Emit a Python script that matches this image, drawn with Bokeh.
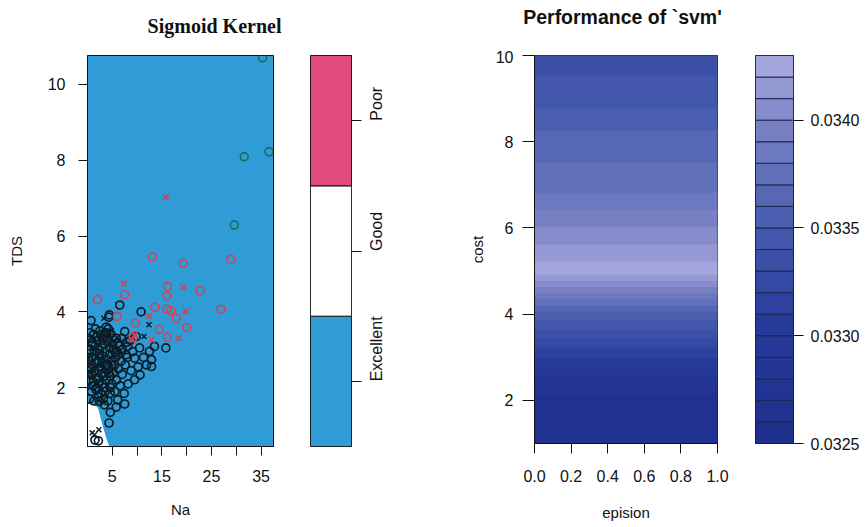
import math
import numpy as np
from bokeh.plotting import figure
from bokeh.plotting.contour import contour_data
from bokeh.layouts import row, column
from bokeh.models import (FixedTicker, PrintfTickFormatter, Range1d, LinearAxis,
                          ColumnDataSource)
from bokeh.core.properties import value
from bokeh.embed import file_html
from bokeh.resources import INLINE

# ---------------- data: left panel (SVM classification plot) ----------------
classes = ["Excellent", "Good", "Poor"]
class_colors = ["#2f9bd7", "#ffffff", "#e04a7c"]

# region predicted "Good" (white) in the lower-left corner
good_region_na = [0.0, 0.0, 0.8, 2.1, 3.1, 3.8, 4.4]
good_region_tds = [0.45, 1.6, 1.6, 1.47, 0.98, 0.67, 0.45]

# class Excellent (black), plain points (o)
exc_o_na = [6.5, 4.4, 0.7, 4.3, 7.5, 6.1, 8.1, 10.5, 12.5, 6.1, 7.8, 9.5, 13.5, 12.9,
            15.8, 12.9, 10.6, 9.5, 8.2, 7.4, 7.5, 5.8, 4.6, 4.35, 3.4, 2.4, 6.1, 2.2, 1.5,
            0.3, 1.2, 2.5, 3.6, 4.2, 5.0, 0.5, 1.5, 2.4, 3.3, 4.4, 5.3, 6.4, 0.2, 1.0,
            2.0, 2.9, 3.9, 4.8, 5.7, 6.8, 7.6, 0.6, 1.5, 2.5, 3.4, 4.3, 5.2, 6.2, 7.0,
            8.8, 0.3, 1.2, 2.1, 3.0, 3.9, 4.9, 5.8, 6.6, 0.8, 1.7, 2.7, 3.6, 4.6, 5.5,
            0.4, 1.3, 2.2, 3.2, 4.1, 0.9, 1.9, 2.8, 3.7, 4.6, 5.5, 6.0, 1.0, 2.0, 3.0,
            4.0, 5.8, 7.0, 8.0, 10.8, 3.8,
            0.5, 1.6, 2.7, 3.8, 4.7, 0.9, 2.0, 3.1, 4.1, 5.1, 0.4, 1.4, 2.4, 3.5, 4.5,
            5.6, 0.8, 1.8, 2.9, 4.0, 5.0, 0.3, 1.3, 2.3, 3.3, 4.3, 1.1, 2.2, 3.4, 4.6,
            6.9, 7.9, 8.6, 9.8, 11.3, 11.9, 9.1, 10.2]
exc_o_tds = [4.18, 3.92, 3.77, 3.86, 3.48, 3.18, 3.09, 3.05, 2.96, 2.87, 2.87, 2.78, 3.09, 2.74,
             3.05, 2.56, 2.34, 2.21, 2.10, 1.85, 1.57, 1.49, 1.35, 1.07, 1.55, 1.64, 1.68, 0.60, 0.62,
             3.30, 3.40, 3.50, 3.45, 3.55, 3.30, 3.00, 3.10, 3.00, 3.15, 3.05, 3.00, 3.10, 2.75, 2.80,
             2.70, 2.85, 2.75, 2.70, 2.80, 2.70, 2.60, 2.50, 2.45, 2.55, 2.40, 2.50, 2.40, 2.50, 2.35,
             2.45, 2.20, 2.15, 2.25, 2.10, 2.20, 2.10, 2.20, 2.05, 1.90, 1.95, 1.85, 1.90, 1.85, 1.90,
             1.70, 1.65, 1.75, 1.70, 1.65, 2.35, 2.00, 2.35, 2.60, 2.30, 2.60, 2.95, 3.15, 3.25, 3.30,
             3.30, 3.30, 3.00, 2.80, 4.00, 3.44,
             3.45, 3.55, 3.40, 3.60, 3.42, 3.20, 3.35, 3.25, 3.20, 3.15, 2.90, 2.95, 2.90, 2.95, 2.88,
             2.92, 2.62, 2.65, 2.68, 2.62, 2.58, 2.35, 2.40, 2.45, 2.30, 2.38, 2.05, 2.10, 2.00, 2.00,
             3.30, 3.20, 3.25, 3.35, 2.80, 2.60, 2.95, 2.55]
# class Excellent, support vectors (x)
exc_x_na = [3.3, 0.95, 2.3, 12.4, 11.4, 1.4, 2.6, 0.8, 4.8]
exc_x_tds = [3.83, 0.81, 0.89, 3.66, 3.35, 0.76, 2.9, 2.6, 3.5]

# class Good (red)
good_o_na = [13.1, 19.3, 28.9, 7.5, 2.0, 16.1, 16.0, 22.7, 26.9, 13.6, 16.0, 16.8, 17.9,
             20.0, 14.5, 16.1, 9.6, 9.2, 6.0]
good_o_tds = [5.45, 5.28, 5.39, 4.45, 4.32, 4.67, 4.42, 4.56, 4.07, 4.12, 4.07, 4.03, 3.83,
              3.59, 3.54, 3.33, 3.70, 3.33, 3.88]
good_x_na = [15.8, 7.3, 19.3, 19.8, 12.4, 18.4, 9.0, 9.5, 12.9]
good_x_tds = [7.02, 4.75, 4.65, 4.01, 3.89, 3.31, 3.26, 3.39, 3.26]

# class Poor (green)
poor_o_na = [31.6, 29.6, 35.3, 36.6]
poor_o_tds = [8.09, 6.29, 10.70, 8.22]

# ---------------- data: right panel (tuning performance) ----------------
epsilon = [0.0, 0.1, 0.2, 0.3, 0.4, 0.5, 0.6, 0.7, 0.8, 0.9, 1.0]
cost = [1, 2, 3, 4, 5, 6, 7, 8, 9, 10]
error_by_cost = [0.03260, 0.03265, 0.03310, 0.03355, 0.03425,
                 0.03400, 0.03375, 0.03365, 0.03345, 0.03335]
levels = [0.0325, 0.0326, 0.0327, 0.0328, 0.0329, 0.0330, 0.0331, 0.0332, 0.0333, 0.0334,
          0.0335, 0.0336, 0.0337, 0.0338, 0.0339, 0.0340, 0.0341, 0.0342, 0.0343]
err_ticks = [0.0325, 0.0330, 0.0335, 0.0340]

titles = ["Sigmoid Kernel", "Performance of `svm'"]

# ---------------- styling helpers ----------------
FONT = "Liberation Sans"
TICK_FS = "16px"
LAB_FS = "15px"
INK = "#111111"
TOP = 5  # border above each frame (below the title strip)


def hex2rgb(h):
    h = h.lstrip("#")
    return [int(h[i:i + 2], 16) for i in (0, 2, 4)]


anchors_pos = [0, 5, 10, 14, 17]
anchors_col = ["#1f2f8e", "#263a9a", "#4a5fb0", "#7880c4", "#a3a5dc"]
palette = []
for i in range(len(levels) - 1):
    for k in range(len(anchors_pos) - 1):
        if anchors_pos[k] <= i <= anchors_pos[k + 1]:
            t = (i - anchors_pos[k]) / (anchors_pos[k + 1] - anchors_pos[k])
            a, b = hex2rgb(anchors_col[k]), hex2rgb(anchors_col[k + 1])
            c = [round(a[j] + (b[j] - a[j]) * t) for j in range(3)]
            palette.append("#%02x%02x%02x" % tuple(c))
            break


def style_axis(ax, tick_out=9, standoff=8, label_standoff=16):
    ax.major_tick_out = tick_out
    ax.major_tick_in = 0
    ax.minor_tick_out = 0
    ax.minor_tick_in = 0
    ax.major_label_standoff = standoff
    ax.axis_label_standoff = label_standoff
    ax.major_label_text_font = FONT
    ax.major_label_text_font_size = TICK_FS
    ax.major_label_text_color = INK
    ax.axis_label_text_font = FONT
    ax.axis_label_text_font_size = LAB_FS
    ax.axis_label_text_font_style = "normal"
    ax.axis_label_text_color = INK
    ax.axis_line_color = INK
    ax.major_tick_line_color = INK


def base_fig(fw, fh, xr, yr, bl, br, bt, bb):
    p = figure(frame_width=fw, frame_height=fh, x_range=xr, y_range=yr,
               output_backend="svg", toolbar_location=None,
               min_border_left=bl, min_border_right=br,
               min_border_top=bt, min_border_bottom=bb)
    p.grid.visible = False
    p.outline_line_color = INK
    p.outline_line_width = 1
    p.border_fill_color = "white"
    return p


def title_strip(width, height, text, cx, cy, font, size):
    t = figure(frame_width=width, frame_height=height,
               x_range=Range1d(0, width), y_range=Range1d(height, 0),
               output_backend="svg", toolbar_location=None,
               min_border_left=0, min_border_right=0, min_border_top=0, min_border_bottom=0)
    t.axis.visible = False
    t.grid.visible = False
    t.outline_line_color = None
    t.text(x=[cx], y=[cy], text=[text], text_align="center", text_baseline="middle",
           text_font=value(font), text_font_size=size, text_font_style="bold",
           text_color=INK)
    return t


# ---------------- panel 1: classification plot ----------------
p1 = base_fig(186, 391, Range1d(0.0, 37.5), Range1d(0.45, 10.76), 87, 17, TOP, 76)
p1.background_fill_color = class_colors[0]
p1.patch(good_region_na, good_region_tds, fill_color=class_colors[1], line_color=None)

dark = "#0c1d26"
red = "#d9404f"
green = "#1a6a50"
p1.scatter(exc_o_na, exc_o_tds, marker="circle", size=8, fill_color=None,
           line_color=dark, line_width=1.7)
p1.scatter(exc_x_na, exc_x_tds, marker="x", size=7, line_color=dark, line_width=1.5)
p1.scatter(good_o_na, good_o_tds, marker="circle", size=8, fill_color=None,
           line_color=red, line_width=1.5)
p1.scatter(good_x_na, good_x_tds, marker="x", size=8, line_color=red, line_width=1.6)
p1.scatter(poor_o_na, poor_o_tds, marker="circle", size=8, fill_color=None,
           line_color=green, line_width=1.5)

p1.xaxis.ticker = FixedTicker(ticks=[5, 10, 15, 20, 25, 30, 35])
p1.xaxis.major_label_overrides = {10: "", 20: "", 30: ""}
p1.yaxis.ticker = FixedTicker(ticks=[2, 4, 6, 8, 10])
p1.xaxis.axis_label = "Na"
p1.yaxis.axis_label = "TDS"
style_axis(p1.xaxis[0], 9, 14, 16)
style_axis(p1.yaxis[0], 9, 13, 20)

# ---------------- panel 2: class key ----------------
p2 = base_fig(41, 391, Range1d(0, 1), Range1d(0, 3), 20, 89, TOP, 76)
p2.quad(left=0, right=1, bottom=[0, 1, 2], top=[1, 2, 3], fill_color=class_colors,
        line_color=INK, line_width=1)
p2.xaxis.visible = False
p2.yaxis.visible = False
ax2 = LinearAxis(ticker=FixedTicker(ticks=[0.5, 1.5, 2.5]),
                 major_label_overrides={0.5: classes[0], 1.5: classes[1], 2.5: classes[2]})
style_axis(ax2, 10, 15, 10)
ax2.major_label_orientation = math.pi / 2
ax2.axis_line_color = None
p2.add_layout(ax2, "right")

# ---------------- panel 3: performance contour ----------------
p3 = base_fig(183, 388, Range1d(0, 1), Range1d(1, 10), 94, 20, TOP, 81)
Z = np.array([[e] * len(epsilon) for e in error_by_cost])
cd = contour_data(np.array(epsilon), np.array(cost), Z, levels, want_fill=True, want_line=False)
fd = cd.fill_data
band_colors = [palette[int(round((lo - levels[0]) / 0.0001))] for lo in fd.lower_levels]
src = ColumnDataSource(dict(xs=fd.xs, ys=fd.ys, color=band_colors))
p3.multi_polygons(xs="xs", ys="ys", source=src, fill_color="color", line_color="color",
                  line_width=1.2)
p3.xaxis.ticker = FixedTicker(ticks=[0.0, 0.2, 0.4, 0.6, 0.8, 1.0])
p3.xaxis.formatter = PrintfTickFormatter(format="%.1f")
p3.yaxis.ticker = FixedTicker(ticks=[2, 4, 6, 8, 10])
p3.xaxis.axis_label = "epision"
p3.yaxis.axis_label = "cost"
style_axis(p3.xaxis[0], 10, 16, 19)
style_axis(p3.yaxis[0], 12, 9, 7)

# ---------------- panel 4: error key ----------------
p4 = base_fig(38, 388, Range1d(0, 1), Range1d(levels[0], levels[-1]), 18, 67, TOP, 81)
p4.quad(left=0, right=1, bottom=levels[:-1], top=levels[1:], fill_color=palette,
        line_color="#1a2550", line_width=1)
p4.xaxis.visible = False
p4.yaxis.visible = False
ax4 = LinearAxis(ticker=FixedTicker(ticks=err_ticks),
                 formatter=PrintfTickFormatter(format="%.4f"))
style_axis(ax4, 10, 7, 10)
ax4.axis_line_color = None
p4.add_layout(ax4, "right")

# ---------------- title strips ----------------
STRIP_H = 50
t1 = title_strip(440, STRIP_H, titles[0], 214, 25, "Liberation Serif", "20px")
t2 = title_strip(420, STRIP_H, titles[1], 622 - 440, 16, FONT, "19.5px")

layout = column(row(t1, t2), row(p1, p2, p3, p4))
open("out.html", "w").write(file_html(layout, INLINE))
